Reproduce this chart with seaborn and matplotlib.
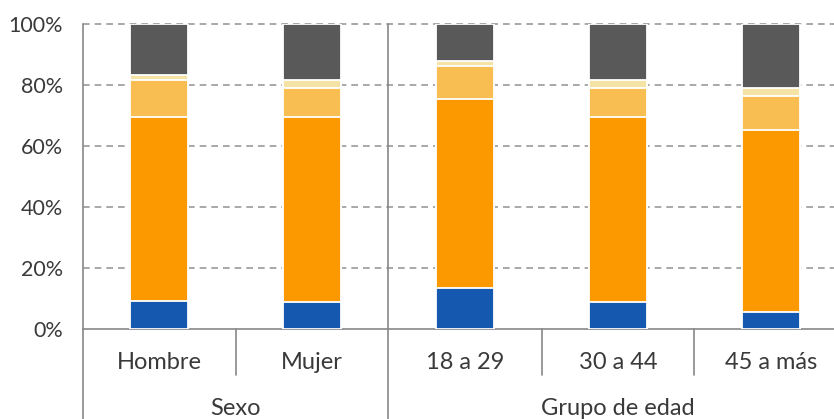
import numpy as np
import pandas as pd
import matplotlib.pyplot as plt
import seaborn as sns

# Categories and groups
categorias = ['Hombre', 'Mujer', '18 a 29', '30 a 44', '45 a más']
grupos = ['Sexo', 'Grupo de edad']
grupo_pos = [0.5, 3.0]

# Shares (%) per segment, bottom to top
seg_1 = [9.3, 8.9, 13.5, 8.9, 5.6]
seg_2 = [60.2, 60.6, 61.8, 60.6, 59.6]
seg_3 = [12.1, 9.5, 10.9, 9.5, 11.3]
seg_4 = [1.6, 2.6, 1.7, 2.6, 2.5]
seg_5 = [16.8, 18.4, 12.1, 18.4, 21.0]

colores = ['#1558B0', '#FC9900', '#F8BE52', '#F5E3A5', '#595959']

sns.set_style('white')
plt.rcParams['font.family'] = ['Lato', 'DejaVu Sans']
texto = '#3a3a3a'

df = pd.DataFrame({'cat': categorias, 's1': seg_1, 's2': seg_2,
                   's3': seg_3, 's4': seg_4, 's5': seg_5})
segs = ['s1', 's2', 's3', 's4', 's5']
cum = df[segs].cumsum(axis=1)
cum['cat'] = df['cat']

fig = plt.figure(figsize=(8.34, 4.19), dpi=100)
ax = fig.add_axes([82.5 / 834, 90 / 419, 765 / 834, 305 / 419])

# draw cumulative bars from tallest to shortest so they stack
for col, c in reversed(list(zip(segs, colores))):
    sns.barplot(data=cum, x='cat', y=col, color=c, width=0.385,
                edgecolor='white', linewidth=1.3, saturation=1, ax=ax,
                zorder=3)

ax.set_xlim(-0.5, 4.5)
ax.set_ylim(0, 100)
ax.set_yticks([0, 20, 40, 60, 80, 100])
ax.set_yticklabels([f'{v}%' for v in [0, 20, 40, 60, 80, 100]],
                   fontsize=15.5, color=texto)
ax.tick_params(axis='y', length=0, pad=14)
ax.set_xticks([])
ax.set_xlabel('')
ax.set_ylabel('')
for v in [20, 40, 60, 80, 100]:
    ax.axhline(v, color='#999999', linestyle=(0, (4, 3)), linewidth=1.2,
               zorder=1, clip_on=False)

for s in ['top', 'right']:
    ax.spines[s].set_visible(False)
for s in ['left', 'bottom']:
    ax.spines[s].set_color('#888888')
    ax.spines[s].set_linewidth(1.2)

tr = ax.get_xaxis_transform()
# separators below the axis
ax.plot([-0.5, -0.5], [0, -0.32], color='#888888', lw=1.2,
        transform=tr, clip_on=False)
ax.plot([1.5, 1.5], [1, -0.32], color='#888888', lw=1.2,
        transform=tr, clip_on=False, zorder=2)
for x in [0.5, 2.5, 3.5]:
    ax.plot([x, x], [0, -0.151], color='#888888', lw=1.2,
            transform=tr, clip_on=False)

for i, lab in enumerate(categorias):
    ax.text(i, -0.111, lab, transform=tr, ha='center', va='center',
            fontsize=17, color=texto)
for x, lab in zip(grupo_pos, grupos):
    ax.text(x, -0.262, lab, transform=tr, ha='center', va='center',
            fontsize=17, color=texto)

fig.savefig('out.png', dpi=100)
